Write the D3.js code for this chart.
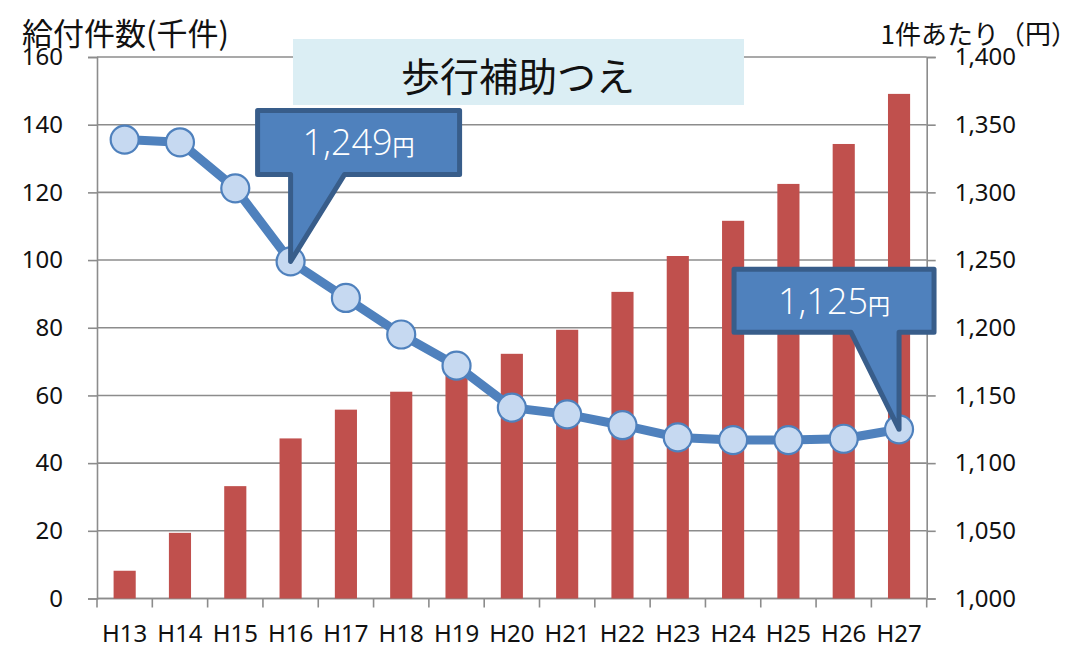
<!DOCTYPE html>
<html><head><meta charset="utf-8">
<script src="https://cdn.jsdelivr.net/npm/d3@7"></script>
<style>
html,body{margin:0;padding:0;background:#fff;}
svg{display:block;}
text{font-family:"Noto Sans","Noto Sans CJK JP",sans-serif;}
</style></head>
<body>
<svg id="chart" width="1078" height="653"></svg>
<script>
const categories = ["H13","H14","H15","H16","H17","H18","H19","H20","H21","H22","H23","H24","H25","H26","H27"];
const countValues = [8.2,19.4,33.2,47.3,55.8,61.1,66.5,72.3,79.4,90.6,101.2,111.6,122.5,134.3,149.1];
const unitPrice = [1339,1337,1303,1249,1222,1195,1172,1141,1136,1128,1119,1117,1117,1118,1125];
const leftTicks = [0,20,40,60,80,100,120,140,160];
const rightTicks = [1000,1050,1100,1150,1200,1250,1300,1350,1400];
const leftTitle = "給付件数(千件)";
const rightTitle = "1件あたり（円）";
const chartTitle = "歩行補助つえ";
const callouts = [
  {index:3, num:"1,249", unit:"円", dx:-33, dy:-151, w:202, h:64, baseL:33, baseR:87},
  {index:14, num:"1,125", unit:"円", dx:-165, dy:-160, w:200, h:63, baseL:117, baseR:165}
];

const svg = d3.select("#chart");
const L = 97, R = 926.7, T = 57, B = 598.5;

const x = d3.scaleBand().domain(categories).range([L, R]).padding(0);
const yL = d3.scaleLinear().domain([0,160]).range([B, T]);
const yR = d3.scaleLinear().domain([1000,1400]).range([B, T]);
const gridColor = "#8c8c8c";

// gridlines
svg.append("g").selectAll("line").data(leftTicks).join("line")
  .attr("x1", L).attr("x2", R)
  .attr("y1", d => yL(d)).attr("y2", d => yL(d))
  .attr("stroke", gridColor).attr("stroke-width", 1.6);

// left axis
const gLeft = svg.append("g").attr("transform", `translate(${L},0)`)
  .call(d3.axisLeft(yL).tickValues(leftTicks).tickSize(9).tickPadding(25).tickFormat(d3.format("d")));
// right axis
const gRight = svg.append("g").attr("transform", `translate(${R},0)`)
  .call(d3.axisRight(yR).tickValues(rightTicks).tickSize(9).tickPadding(19).tickFormat(d3.format(",")));
// bottom axis
const gBottom = svg.append("g").attr("transform", `translate(0,${B})`)
  .call(d3.axisBottom(x).tickSize(0).tickPadding(26));
// category boundary ticks
svg.append("g").selectAll("line").data(d3.range(categories.length + 1)).join("line")
  .attr("x1", i => L + i * x.bandwidth()).attr("x2", i => L + i * x.bandwidth())
  .attr("y1", B).attr("y2", B + 9)
  .attr("stroke", gridColor).attr("stroke-width", 1.6);

[gLeft, gRight, gBottom].forEach(g => {
  g.selectAll(".domain").attr("stroke", gridColor).attr("stroke-width", 1.6);
  g.selectAll(".tick line").attr("stroke", gridColor).attr("stroke-width", 1.6);
  g.selectAll(".tick text").attr("fill", "#111").style("font-size", "24px")
   .style("font-family", "'Noto Sans', sans-serif");
});
gBottom.select(".domain").attr("d", `M${L},0H${R}`);
gBottom.selectAll(".tick text").attr("dy", "0.71em");

// bars
const bw = x.bandwidth() * 0.4;
svg.append("g").selectAll("rect").data(categories).join("rect")
  .attr("x", (d) => x(d) + x.bandwidth()/2 - bw/2)
  .attr("width", bw)
  .attr("y", (d,i) => yL(countValues[i]))
  .attr("height", (d,i) => B - yL(countValues[i]))
  .attr("fill", "#c0504d");

// line
const line = d3.line().x((d,i) => x(categories[i]) + x.bandwidth()/2).y(d => yR(d));
svg.append("path").datum(unitPrice).attr("d", line)
  .attr("fill","none").attr("stroke","#4f81bd").attr("stroke-width",9).attr("stroke-linejoin","round");
svg.append("g").selectAll("circle").data(unitPrice).join("circle")
  .attr("cx", (d,i) => x(categories[i]) + x.bandwidth()/2)
  .attr("cy", d => yR(d)).attr("r", 14)
  .attr("fill","#c6d9f1").attr("stroke","#4f81bd").attr("stroke-width",2.2);

// title box
svg.append("rect").attr("x",293).attr("y",39).attr("width",451).attr("height",66).attr("fill","#dbeef4");
svg.append("text").attr("x",518).attr("y",91).attr("text-anchor","middle")
  .style("font-family","'Noto Sans CJK JP',sans-serif").style("font-size","39px").attr("fill","#111")
  .text(chartTitle);

// axis titles
svg.append("text").attr("x",22).attr("y",45)
  .style("font-family","'Noto Sans CJK JP',sans-serif").style("font-size","31px").attr("fill","#111")
  .text(leftTitle);
svg.append("text").attr("x",1077).attr("y",44).attr("text-anchor","end")
  .style("font-family","'Noto Sans CJK JP',sans-serif").style("font-size","26px").attr("fill","#111")
  .text(rightTitle);

// callouts
callouts.forEach(c => {
  const px = x(categories[c.index]) + x.bandwidth()/2;
  const py = yR(unitPrice[c.index]);
  const rx = px + c.dx, ry = py + c.dy;
  const path = d3.path();
  path.moveTo(rx, ry);
  path.lineTo(rx + c.w, ry);
  path.lineTo(rx + c.w, ry + c.h);
  path.lineTo(rx + c.baseR, ry + c.h);
  path.lineTo(px, py);
  path.lineTo(rx + c.baseL, ry + c.h);
  path.lineTo(rx, ry + c.h);
  path.closePath();
  svg.append("path").attr("d", path.toString())
    .attr("fill","#4f81bd").attr("stroke","#385d8a").attr("stroke-width",5).attr("stroke-linejoin","round");
  const t = svg.append("text").attr("x", rx + c.w/2).attr("y", ry + 45).attr("text-anchor","middle")
    .attr("fill","#fff");
  t.append("tspan").style("font-family","'Open Sans',sans-serif").style("font-size","36px").style("font-weight","300").text(c.num);
  t.append("tspan").style("font-family","'Noto Sans CJK JP',sans-serif").style("font-size","22px").text(c.unit);
});
</script>
</body></html>
